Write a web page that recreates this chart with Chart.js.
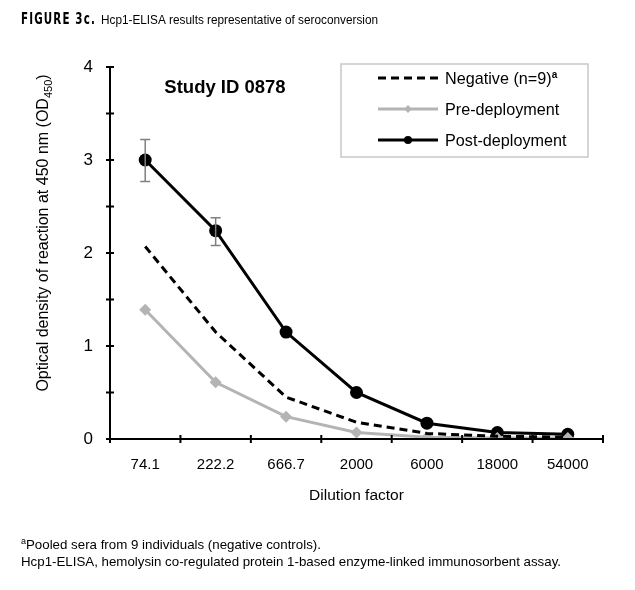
<!DOCTYPE html>
<html>
<head>
<meta charset="utf-8">
<script src="https://cdn.jsdelivr.net/npm/chart.js@4"></script>
<style>
	html, body { margin: 0; padding: 0; background: #fff; }
	#wrap { position: relative; width: 635px; height: 590px; }
</style>
</head>
<body>
<div id="wrap"><canvas id="chart" width="635" height="590"></canvas></div>
<script>
// dilution categories
const dilutions = ["74.1", "222.2", "666.7", "2000", "6000", "18000", "54000"];

// OD450 values
const negative = [2.07, 1.15, 0.45, 0.18, 0.06, 0.03, 0.02];
const preDeploy = [1.39, 0.61, 0.24, 0.07, 0.02, 0.01, 0.01];
const postDeploy = [3.00, 2.24, 1.15, 0.50, 0.17, 0.07, 0.05];

// error bars for post-deployment (low / high), null = none
const postErrLow = [2.77, 2.08, null, null, null, null, null];
const postErrHigh = [3.22, 2.38, null, null, null, null, null];

const yTicks = [0, 1, 2, 3, 4];

const FONT = "'Liberation Sans', Arial, sans-serif";
const GREY = '#b4b4b4';

// draw text with a small raised / lowered part
function drawRich(ctx, parts, x, y) {
	let cx = x;
	parts.forEach(function(p) {
		ctx.font = p.font;
		ctx.fillText(p.text, cx, y + (p.dy || 0));
		cx += ctx.measureText(p.text).width;
	});
	return cx;
}
function richWidth(ctx, parts) {
	let w = 0;
	parts.forEach(function(p) {
		ctx.font = p.font;
		w += ctx.measureText(p.text).width;
	});
	return w;
}

// text squeezed horizontally into a given width
function fitText(ctx, txt, x, y, maxW) {
	let w = ctx.measureText(txt).width;
	ctx.save();
	ctx.translate(x, y);
	ctx.scale(Math.min(1, maxW / w), 1);
	ctx.fillText(txt, 0, 0);
	ctx.restore();
}

const decorPlugin = {
	id: 'decor',
	afterDraw(chart) {
		const ctx = chart.ctx;
		const xs = chart.scales.x;
		const ys = chart.scales.y;
		const area = chart.chartArea;
		ctx.save();

		// axis lines and cross ticks
		ctx.strokeStyle = '#000';
		ctx.lineWidth = 2;
		ctx.beginPath();
		ctx.moveTo(area.left, area.top);
		ctx.lineTo(area.left, area.bottom);
		ctx.lineTo(area.right, area.bottom);
		ctx.stroke();
		ctx.beginPath();
		for (let v = 0; v <= 4; v += 0.5) {
			let py = ys.getPixelForValue(v);
			ctx.moveTo(area.left - 4, py);
			ctx.lineTo(area.left + 4, py);
		}
		const step = xs.getPixelForValue(1) - xs.getPixelForValue(0);
		for (let i = 0; i <= dilutions.length; i++) {
			let px = xs.getPixelForValue(i) - step / 2;
			ctx.moveTo(px, area.bottom - 4);
			ctx.lineTo(px, area.bottom + 4);
		}
		ctx.stroke();

		// error bars
		ctx.strokeStyle = '#808080';
		ctx.lineWidth = 1.5;
		postErrLow.forEach(function(lo, i) {
			if (lo == null) return;
			let px = xs.getPixelForValue(i);
			let pLo = ys.getPixelForValue(lo);
			let pHi = ys.getPixelForValue(postErrHigh[i]);
			ctx.beginPath();
			ctx.moveTo(px, pLo); ctx.lineTo(px, pHi);
			ctx.moveTo(px - 5, pLo); ctx.lineTo(px + 5, pLo);
			ctx.moveTo(px - 5, pHi); ctx.lineTo(px + 5, pHi);
			ctx.stroke();
		});

		ctx.fillStyle = '#000';
		ctx.textBaseline = 'alphabetic';

		// figure caption
		ctx.font = "bold 15px 'DejaVu Sans Condensed', 'Liberation Sans Narrow', sans-serif";
		ctx.letterSpacing = '1.5px';
		fitText(ctx, 'FIGURE 3c.', 21, 24, 75);
		ctx.letterSpacing = '0px';
		ctx.font = '13.5px ' + FONT;
		fitText(ctx, 'Hcp1-ELISA results representative of seroconversion', 101, 24, 277);

		// panel label
		ctx.font = 'bold 18.5px ' + FONT;
		ctx.textAlign = 'center';
		ctx.fillText('Study ID 0878', 225, 93);

		// x title
		ctx.font = '15.5px ' + FONT;
		ctx.fillText('Dilution factor', (area.left + area.right) / 2, 500);
		ctx.textAlign = 'left';

		// y title, rotated
		const yParts = [
			{text: 'Optical density of reaction at 450 nm (OD', font: '16px ' + FONT},
			{text: '450', font: '11px ' + FONT, dy: 4},
			{text: ')', font: '16px ' + FONT}
		];
		ctx.save();
		ctx.translate(48, 233);
		ctx.rotate(-Math.PI / 2);
		drawRich(ctx, yParts, -richWidth(ctx, yParts) / 2, 0);
		ctx.restore();

		// legend box
		const lx = 341, ly = 64, lw = 247, lh = 93;
		ctx.strokeStyle = '#c8c8c8';
		ctx.lineWidth = 1.5;
		ctx.strokeRect(lx, ly, lw, lh);
		const rows = [
			{ds: 0, parts: [{text: 'Negative (n=9)', font: '16.2px ' + FONT}, {text: 'a', font: 'bold 10px ' + FONT, dy: -6}]},
			{ds: 1, parts: [{text: 'Pre-deployment', font: '16.2px ' + FONT}]},
			{ds: 2, parts: [{text: 'Post-deployment', font: '16.2px ' + FONT}]}
		];
		rows.forEach(function(r, i) {
			const ds = chart.data.datasets[r.ds];
			const cy = 78 + i * 31;
			ctx.save();
			ctx.strokeStyle = ds.borderColor;
			ctx.lineWidth = ds.borderWidth;
			ctx.setLineDash(ds.borderDash || []);
			ctx.beginPath();
			ctx.moveTo(378, cy);
			ctx.lineTo(438, cy);
			ctx.stroke();
			ctx.restore();
			if (ds.pointRadius > 0) {
				ctx.fillStyle = ds.pointBackgroundColor;
				if (ds.pointStyle === 'rectRot') {
					ctx.beginPath();
					ctx.moveTo(408, cy - 4); ctx.lineTo(412, cy); ctx.lineTo(408, cy + 4); ctx.lineTo(404, cy);
					ctx.closePath(); ctx.fill();
				} else {
					ctx.beginPath();
					ctx.arc(408, cy, 4, 0, Math.PI * 2);
					ctx.fill();
				}
			}
			ctx.fillStyle = '#000';
			drawRich(ctx, r.parts, 445, cy + 6);
		});

		// footnotes
		drawRich(ctx, [{text: 'a', font: '9px ' + FONT, dy: -5}, {text: 'Pooled sera from 9 individuals (negative controls).', font: '13.3px ' + FONT}], 21, 549);
		ctx.font = '13.3px ' + FONT;
		ctx.fillText('Hcp1-ELISA, hemolysin co-regulated protein 1-based enzyme-linked immunosorbent assay.', 21, 566);

		ctx.restore();
	}
};

new Chart(document.getElementById('chart'), {
	type: 'line',
	data: {
		labels: dilutions,
		datasets: [
			{
				label: 'Negative (n=9)',
				data: negative,
				borderColor: '#000',
				borderWidth: 3,
				borderDash: [8, 5],
				pointRadius: 0,
				pointHoverRadius: 0
			},
			{
				label: 'Pre-deployment',
				data: preDeploy,
				borderColor: GREY,
				borderWidth: 3,
				pointStyle: 'rectRot',
				pointRadius: 6,
				pointBackgroundColor: GREY,
				pointBorderColor: GREY,
				pointBorderWidth: 0
			},
			{
				label: 'Post-deployment',
				data: postDeploy,
				borderColor: '#000',
				borderWidth: 3,
				pointStyle: 'circle',
				pointRadius: 6.5,
				pointBackgroundColor: '#000',
				pointBorderColor: '#000',
				pointBorderWidth: 0
			}
		]
	},
	options: {
		responsive: false,
		animation: false,
		layout: {padding: {left: 0, right: 32, top: 67, bottom: 0}},
		plugins: {
			legend: {display: false},
			tooltip: {enabled: false}
		},
		scales: {
			x: {
				offset: true,
				grid: {display: false},
				border: {display: false},
				ticks: {
					color: '#000',
					font: {family: FONT, size: 15},
					padding: 9,
					maxRotation: 0
				},
				afterFit: function(scale) { scale.height = 151; }
			},
			y: {
				min: 0,
				max: 4,
				afterBuildTicks: function(scale) {
					scale.ticks = yTicks.map(function(v) { return {value: v}; });
				},
				grid: {display: false},
				border: {display: false},
				ticks: {
					color: '#000',
					font: {family: FONT, size: 17},
					padding: 9
				},
				afterFit: function(scale) { scale.width = 110; }
			}
		}
	},
	plugins: [decorPlugin]
});
</script>
</body>
</html>
